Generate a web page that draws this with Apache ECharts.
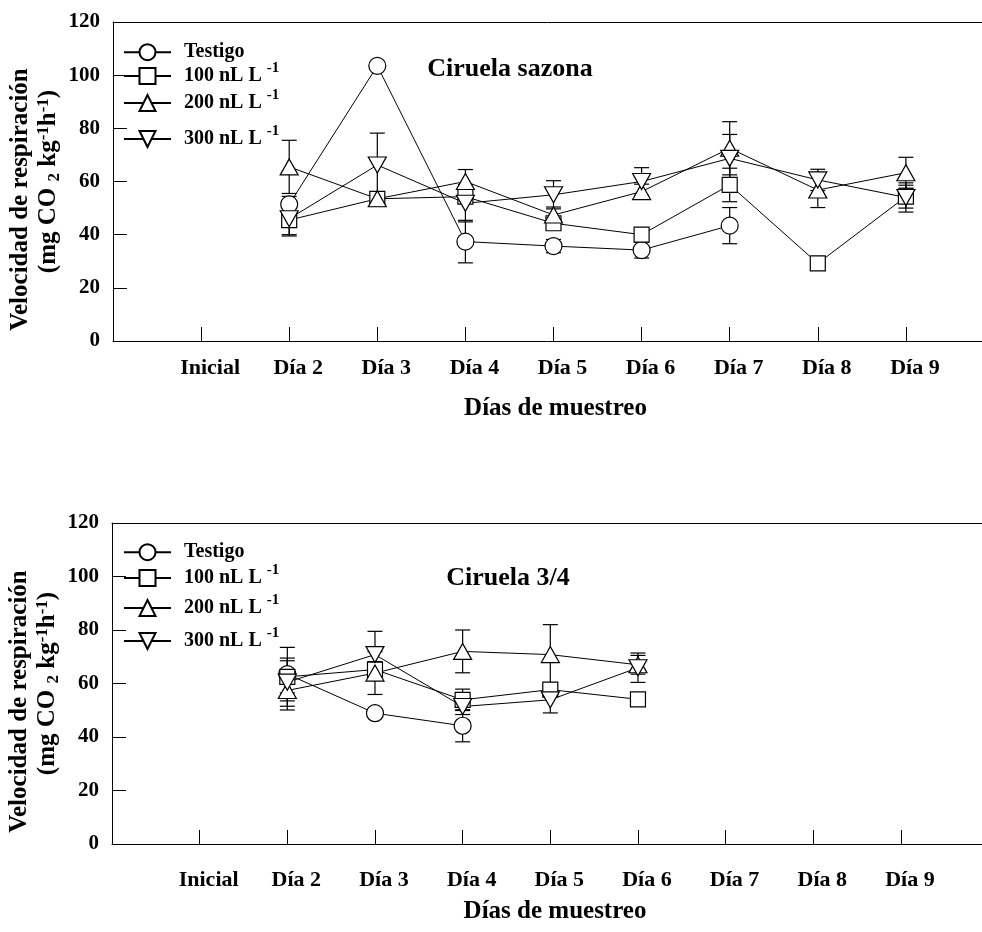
<!DOCTYPE html>
<html>
<head>
<meta charset="utf-8">
<script src="https://cdn.jsdelivr.net/npm/echarts@6/dist/echarts.min.js"></script>
<style>
html,body{margin:0;padding:0;background:#fff;}
#chart{width:982px;height:932px;}
</style>
</head>
<body>
<div id="chart"></div>
<script>
// ---- data ----
const categories = ['Inicial', 'Día 2', 'Día 3', 'Día 4', 'Día 5', 'Día 6', 'Día 7', 'Día 8', 'Día 9'];
const seriesNames = ['Testigo', '100 nL L -1', '200 nL L -1', '300 nL L -1'];
const yTicks = [0, 20, 40, 60, 80, 100, 120];

// Panel 1: Ciruela sazona
const sazTestigo    = [null, 51.4, 103.5, 37.4, 35.7, 34.2, 43.4, null, null];
const sazTestigoErr = [null, 3, 0, 8, 2.5, 3, 6.8, null, null];
const saz100        = [null, 45.5, 53.5, 54.3, 44.3, 40.0, 58.7, 29.2, 54.3];
const saz100Err     = [null, 5.5, 1.5, 2, 2, 1, 6.3, 0, 4.3];
const saz200        = [null, 65.5, 53.5, 60.0, 47.4, 56.2, 72.5, 56.8, 63.3];
const saz200Err     = [null, 10, 1.5, 4.5, 3, 2.8, 10, 6.6, 5.8];
const saz300        = [null, 46.0, 66.2, 51.8, 55.0, 60.0, 68.7, 60.6, 54.0];
const saz300Err     = [null, 6.5, 12, 7, 5.3, 5.2, 9, 4, 5.5];

// Panel 2: Ciruela 3/4
const c34Testigo    = [null, 63.5, 48.9, 44.2, null, null, null, null, null];
const c34TestigoErr = [null, 10, 1.5, 6, null, null, null, null, null];
const c34_100       = [null, 62.5, 65.2, 53.9, 57.7, 54.1, null, null, null];
const c34_100Err    = [null, 6, 3, 4, 2, 1, null, null, null];
const c34_200       = [null, 57.4, 63.9, 72.0, 70.8, 67.0, null, null, null];
const c34_200Err    = [null, 7.3, 8, 8, 11.2, 3.5, null, null, null];
const c34_300       = [null, 60.5, 70.8, 51.4, 53.9, 65.9, null, null, null];
const c34_300Err    = [null, 9, 8.7, 3, 4.9, 5.5, null, null, null];

// ---- styling ----
const FONT = 'Liberation Serif';
const symbols = [
  {symbol: 'circle', size: 17, rotate: 0},
  {symbol: 'rect', size: 15, rotate: 0},
  {symbol: 'triangle', size: [18, 16], rotate: 0},
  {symbol: 'triangle', size: [18, 16], rotate: 180}
];
const tickPositions = categories.map((c, i) => i + 1);

function pts(vals) {
  return vals.map((v, i) => [i + 1, v == null ? null : v]);
}
function errPts(vals, errs) {
  const out = [];
  vals.forEach((v, i) => {
    if (v != null && errs[i]) out.push([i + 1, v - errs[i], v + errs[i]]);
  });
  return out;
}
function errRender(params, api) {
  const x = api.value(0);
  const pLo = api.coord([x, api.value(1)]);
  const pHi = api.coord([x, api.value(2)]);
  const w = 7.5;
  const st = {stroke: '#000', lineWidth: 1.2};
  return {type: 'group', children: [
    {type: 'line', shape: {x1: pLo[0], y1: pLo[1], x2: pHi[0], y2: pHi[1]}, style: st},
    {type: 'line', shape: {x1: pLo[0] - w, y1: pLo[1], x2: pLo[0] + w, y2: pLo[1]}, style: st},
    {type: 'line', shape: {x1: pHi[0] - w, y1: pHi[1], x2: pHi[0] + w, y2: pHi[1]}, style: st}
  ]};
}

function makeSeries(panel, valsList, errList) {
  const out = [];
  valsList.forEach((vals, k) => {
    out.push({
      type: 'custom', name: 'err' + panel + k,
      xAxisIndex: panel * 2, yAxisIndex: panel,
      renderItem: errRender, encode: {x: 0, y: [1, 2]},
      data: errPts(vals, errList[k]), z: 1, silent: true
    });
  });
  valsList.forEach((vals, k) => {
    out.push({
      type: 'line', name: seriesNames[k],
      xAxisIndex: panel * 2, yAxisIndex: panel,
      data: pts(vals),
      symbol: symbols[k].symbol, symbolSize: symbols[k].size, symbolRotate: symbols[k].rotate,
      showSymbol: true, showAllSymbol: true,
      lineStyle: {color: '#000', width: 1},
      itemStyle: {color: '#fff', borderColor: '#000', borderWidth: 1.2},
      z: 3
    });
  });
  return out;
}

const legendRich = {
  n: {fontFamily: FONT, fontWeight: 'bold', fontSize: 20, color: '#000', lineHeight: 30},
  s: {fontFamily: FONT, fontWeight: 'bold', fontSize: 15, color: '#000', lineHeight: 15, verticalAlign: 'top'},
  g: {width: 8}
};
function legendFmt(name) {
  const idx = name.indexOf(' -1');
  if (idx < 0) return '{g|}{n|' + name + '}';
  return '{g|}{n|' + name.slice(0, idx) + ' }{s|-1}';
}
// one legend entry per component so each row sits where the reference has it
function makeLegends(centers) {
  return seriesNames.map((nm, k) => ({
    data: [nm], orient: 'vertical', left: 123, top: centers[k] - (k === 0 ? 8.5 : 13), padding: 0,
    itemWidth: 47, itemHeight: 20, itemGap: 0,
    formatter: legendFmt,
    textStyle: {rich: legendRich, color: '#000'},
    selectedMode: false
  }));
}

const yNameRich = {
  a: {fontFamily: FONT, fontWeight: 'bold', fontSize: 25, color: '#000', lineHeight: 28, padding: [0, 36, 0, 0]},
  b: {fontFamily: FONT, fontWeight: 'bold', fontSize: 25, color: '#000', lineHeight: 28},
  sub: {fontFamily: FONT, fontWeight: 'bold', fontSize: 17, color: '#000', lineHeight: 17, verticalAlign: 'bottom'},
  sup: {fontFamily: FONT, fontWeight: 'bold', fontSize: 17, color: '#000', lineHeight: 17, verticalAlign: 'top'}
};
const yName = '{a|Velocidad de respiración}\n{b|(mg CO }{sub|2}{b| kg}{sup|-1}{b|h}{sup|-1}{b|)}';

function makeXAxes(gridIndex, max, labelMargin) {
  return [{
    type: 'value', gridIndex: gridIndex, position: 'bottom', min: 0, max: max, interval: 1,
    axisLine: {show: true, onZero: false, lineStyle: {color: '#000', width: 1}},
    axisTick: {show: true, inside: true, length: 14, customValues: tickPositions, lineStyle: {color: '#000', width: 1}},
    axisLabel: {
      show: true, customValues: tickPositions, margin: labelMargin,
      formatter: v => categories[Math.round(v) - 1] || '',
      fontFamily: FONT, fontWeight: 'bold', fontSize: 22, color: '#000', padding: [0, 0, 0, 18]
    },
    splitLine: {show: false},
    name: 'Días de muestreo', nameLocation: 'middle', nameGap: 55, nameMoveOverlap: false,
    nameTextStyle: {fontFamily: FONT, fontWeight: 'bold', fontSize: 25, color: '#000', padding: [0, 0, 0, 16]}
  }, {
    type: 'value', gridIndex: gridIndex, position: 'top', min: 0, max: max,
    axisLine: {show: true, onZero: false, lineStyle: {color: '#000', width: 1}},
    axisTick: {show: false}, axisLabel: {show: false}, splitLine: {show: false}
  }];
}
function makeYAxis(gridIndex) {
  return {
    type: 'value', gridIndex: gridIndex, min: 0, max: 120, interval: 20,
    axisLine: {show: true, onZero: false, lineStyle: {color: '#000', width: 1}},
    axisTick: {show: true, inside: true, length: 14, lineStyle: {color: '#000', width: 1}},
    axisLabel: {margin: 13, fontFamily: FONT, fontWeight: 'bold', fontSize: 21, color: '#000',
      formatter: v => (yTicks.indexOf(v) >= 0 ? String(v) : '')},
    splitLine: {show: false},
    name: yName, nameLocation: 'middle', nameRotate: 90, nameGap: 50, nameMoveOverlap: false,
    nameTextStyle: {rich: yNameRich, align: 'center'}
  };
}

const option = {
  backgroundColor: '#fff',
  animation: false,
  title: [
    {text: 'Ciruela sazona', left: 510, top: 56, textAlign: 'center', padding: 0,
      textStyle: {fontFamily: FONT, fontWeight: 'bold', fontSize: 26, color: '#000'}},
    {text: 'Ciruela 3/4', left: 508, top: 565, textAlign: 'center', padding: 0,
      textStyle: {fontFamily: FONT, fontWeight: 'bold', fontSize: 26, color: '#000'}}
  ],
  legend: makeLegends([50.7, 74, 101, 137]).concat(makeLegends([550.7, 576, 606, 639])),
  grid: [
    {left: 113, right: 0, top: 22, height: 319, outerBoundsMode: 'none', containLabel: false},
    {left: 112, right: 0, top: 523, height: 321, outerBoundsMode: 'none', containLabel: false}
  ],
  xAxis: makeXAxes(0, 869 / 88.1, 16).concat(makeXAxes(1, 870 / 87.66, 25)),
  yAxis: [makeYAxis(0), makeYAxis(1)],
  series: makeSeries(0, [sazTestigo, saz100, saz200, saz300], [sazTestigoErr, saz100Err, saz200Err, saz300Err])
    .concat(makeSeries(1, [c34Testigo, c34_100, c34_200, c34_300], [c34TestigoErr, c34_100Err, c34_200Err, c34_300Err]))
};

const chart = echarts.init(document.getElementById('chart'), null, {renderer: 'canvas'});
chart.setOption(option);
</script>
</body>
</html>
